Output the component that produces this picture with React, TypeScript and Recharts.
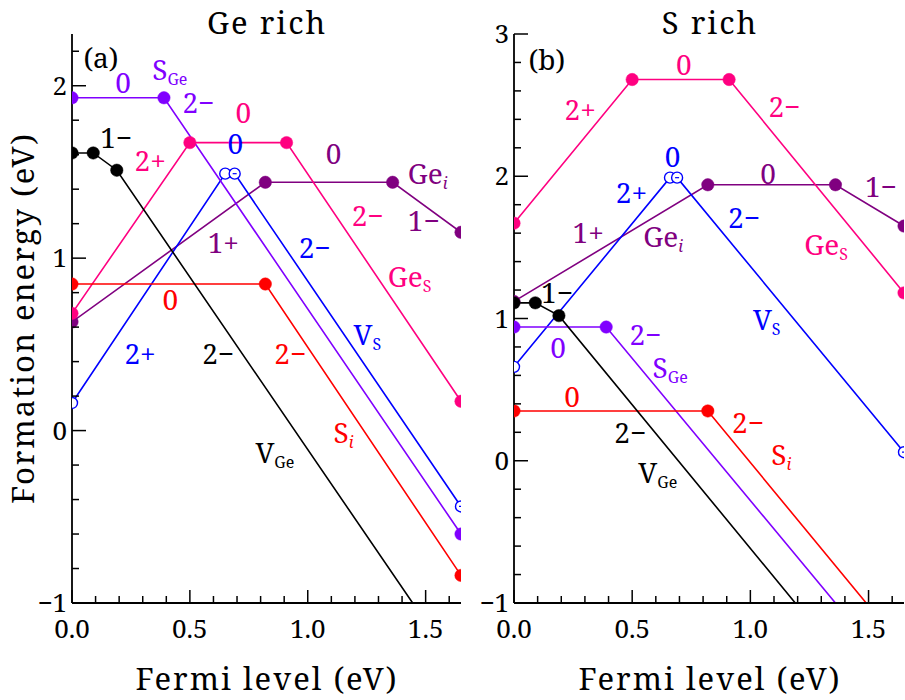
import React from 'react';
import { LineChart, Line, XAxis, YAxis, ReferenceDot } from 'recharts';

const FONT = "'Noto Serif', 'Liberation Serif', serif";
const BLACK = '#000000';
const VIO = '#8000ff';
const PINK = '#ff0080';
const PURP = '#800080';
const BLUE = '#0000ff';
const RED = '#ff0000';

// ---------- Panel (a): Ge rich ----------
const vGeA = [{ x: 0, y: 1.61 }, { x: 0.09, y: 1.61 }, { x: 0.19, y: 1.51 }, { x: 1.445, y: -1 }];
const sGeA = [{ x: 0, y: 1.93 }, { x: 0.39, y: 1.93 }, { x: 1.65, y: -0.6 }];
const geSA = [{ x: 0, y: 0.68 }, { x: 0.5, y: 1.67 }, { x: 0.91, y: 1.67 }, { x: 1.65, y: 0.17 }];
const geIA = [{ x: 0, y: 0.63 }, { x: 0.82, y: 1.44 }, { x: 1.36, y: 1.44 }, { x: 1.65, y: 1.15 }];
const vSA = [{ x: 0, y: 0.16 }, { x: 0.65, y: 1.49 }, { x: 0.69, y: 1.49 }, { x: 1.65, y: -0.44 }];
const sIA = [{ x: 0, y: 0.85 }, { x: 0.82, y: 0.85 }, { x: 1.65, y: -0.84 }];

// ---------- Panel (b): S rich ----------
const vGeB = [{ x: 0, y: 1.11 }, { x: 0.09, y: 1.11 }, { x: 0.19, y: 1.02 }, { x: 1.19, y: -1 }];
const sGeB = [{ x: 0, y: 0.94 }, { x: 0.39, y: 0.94 }, { x: 1.36, y: -1 }];
const geSB = [{ x: 0, y: 1.67 }, { x: 0.5, y: 2.68 }, { x: 0.91, y: 2.68 }, { x: 1.65, y: 1.18 }];
const geIB = [{ x: 0, y: 1.12 }, { x: 0.82, y: 1.94 }, { x: 1.36, y: 1.94 }, { x: 1.65, y: 1.65 }];
const vSB = [{ x: 0, y: 0.66 }, { x: 0.66, y: 1.99 }, { x: 0.69, y: 1.99 }, { x: 1.65, y: 0.06 }];
const sIB = [{ x: 0, y: 0.35 }, { x: 0.82, y: 0.35 }, { x: 1.49, y: -1 }];

// ---------- Axes ----------
const xDomain = [0, 1.65];
const xTicks = [0, 0.1, 0.2, 0.3, 0.4, 0.5, 0.6, 0.7, 0.8, 0.9, 1.0, 1.1, 1.2, 1.3, 1.4, 1.5, 1.6];
const yDomainA = [-1, 2.3];
const yTicksA = [-1, -0.8, -0.6, -0.4, -0.2, 0, 0.2, 0.4, 0.6, 0.8, 1, 1.2, 1.4, 1.6, 1.8, 2, 2.2];
const yDomainB = [-1, 3];
const yTicksB = [-1, -0.8, -0.6, -0.4, -0.2, 0, 0.2, 0.4, 0.6, 0.8, 1, 1.2, 1.4, 1.6, 1.8, 2, 2.2, 2.4, 2.6, 2.8, 3];

const titles = ['Ge rich', 'S rich'];
const xLabel = 'Fermi level (eV)';
const yLabel = 'Formation energy (eV)';

// ---------- Annotations ----------
type Ann = { t: string; s?: string; it?: boolean; x: number; y: number; c: string };
const annA: Ann[] = [
  { t: '(a)', x: 0.123, y: 2.159, c: BLACK },
  { t: '0', x: 0.217, y: 2.015, c: VIO },
  { t: 'S', s: 'Ge', x: 0.34, y: 2.091, c: VIO },
  { t: '2−', x: 0.536, y: 1.9, c: VIO },
  { t: '0', x: 0.727, y: 1.842, c: PINK },
  { t: '1−', x: 0.187, y: 1.697, c: BLACK },
  { t: '2+', x: 0.332, y: 1.565, c: PINK },
  { t: '0', x: 0.693, y: 1.663, c: BLUE },
  { t: '0', x: 1.109, y: 1.605, c: PURP },
  { t: 'Ge', s: 'i', it: true, x: 1.424, y: 1.49, c: PURP },
  { t: '2−', x: 1.254, y: 1.247, c: PINK },
  { t: '1−', x: 1.492, y: 1.218, c: PURP },
  { t: '1+', x: 0.642, y: 1.085, c: PURP },
  { t: '2−', x: 1.029, y: 1.056, c: BLUE },
  { t: 'Ge', s: 'S', x: 1.339, y: 0.888, c: PINK },
  { t: '0', x: 0.417, y: 0.755, c: RED },
  { t: 'V', s: 'S', x: 1.194, y: 0.553, c: BLUE },
  { t: '2+', x: 0.289, y: 0.446, c: BLUE },
  { t: '2−', x: 0.62, y: 0.446, c: BLACK },
  { t: '2−', x: 0.926, y: 0.446, c: RED },
  { t: 'S', s: 'i', it: true, x: 1.109, y: -0.013, c: RED },
  { t: 'V', s: 'Ge', x: 0.778, y: -0.129, c: BLACK },
];
const annB: Ann[] = [
  { t: '(b)', x: 0.139, y: 2.816, c: BLACK },
  { t: '0', x: 0.718, y: 2.781, c: PINK },
  { t: '2+', x: 0.28, y: 2.464, c: PINK },
  { t: '2−', x: 1.144, y: 2.486, c: PINK },
  { t: '0', x: 0.671, y: 2.134, c: BLUE },
  { t: '2+', x: 0.497, y: 1.884, c: BLUE },
  { t: '0', x: 1.075, y: 2.015, c: PURP },
  { t: '1−', x: 1.552, y: 1.923, c: PURP },
  { t: '2−', x: 0.973, y: 1.704, c: BLUE },
  { t: '1+', x: 0.314, y: 1.6, c: PURP },
  { t: 'Ge', s: 'i', it: true, x: 0.547, y: 1.572, c: PURP },
  { t: 'Ge', s: 'S', x: 1.228, y: 1.516, c: PINK },
  { t: '1−', x: 0.182, y: 1.178, c: BLACK },
  { t: 'V', s: 'S', x: 1.011, y: 0.989, c: BLUE },
  { t: '2−', x: 0.556, y: 0.883, c: VIO },
  { t: '0', x: 0.186, y: 0.792, c: VIO },
  { t: 'S', s: 'Ge', x: 0.586, y: 0.651, c: VIO },
  { t: '0', x: 0.246, y: 0.448, c: RED },
  { t: '2−', x: 0.99, y: 0.265, c: RED },
  { t: '2−', x: 0.492, y: 0.195, c: BLACK },
  { t: 'S', s: 'i', it: true, x: 1.088, y: 0.04, c: RED },
  { t: 'V', s: 'Ge', x: 0.526, y: -0.086, c: BLACK },
];

const TM = 5;
const fmtY = (v: number) => (v < 0 ? '−' + Math.abs(v) : String(v));

const YTick = (props: any) => {
  const { x, y, payload } = props;
  const v = payload.value;
  const major = Math.abs(v - Math.round(v)) < 1e-6;
  const ax = x + TM;
  return (
    <g>
      <line x1={ax} x2={ax + (major ? 14 : 7)} y1={y} y2={y} stroke="#000" strokeWidth={1.5} />
      {major && (
        <text x={x} y={y + 9} textAnchor="end" style={{ fontFamily: FONT, fontSize: 26 }} fill="#000">
          {fmtY(v)}
        </text>
      )}
    </g>
  );
};

const XTick = (props: any) => {
  const { x, y, payload } = props;
  const v = payload.value;
  const major = Math.abs(v * 2 - Math.round(v * 2)) < 1e-6;
  const ay = y - TM;
  return (
    <g>
      <line x1={x} x2={x} y1={ay} y2={ay - (major ? 13 : 7)} stroke="#000" strokeWidth={1.5} />
      {major && (
        <text x={x} y={ay + 35} textAnchor="middle" style={{ fontFamily: FONT, fontSize: 26 }} fill="#000">
          {v.toFixed(1)}
        </text>
      )}
    </g>
  );
};

const makeDot = (color: string, ymin: number) => (p: any) => {
  const { cx, cy, index, payload } = p;
  if (payload.y <= ymin) return <g key={'d' + index} />;
  return <circle key={'d' + index} cx={cx} cy={cy} r={6.2} fill={color} stroke={color} strokeWidth={0.5} />;
};

const makeOpenDot = (color: string, ymin: number) => (p: any) => {
  const { cx, cy, index, payload } = p;
  if (payload.y <= ymin) return <g key={'o' + index} />;
  return (
    <g key={'o' + index}>
      <circle cx={cx} cy={cy} r={5.5} fill="#fff" stroke={color} strokeWidth={1.4} />
      {index >= 2 && <line x1={cx - 2} x2={cx + 2} y1={cy} y2={cy} stroke={color} strokeWidth={1.2} />}
    </g>
  );
};

const AnnText = ({ cx, cy, a }: { cx: number; cy: number; a: Ann }) => (
  <text
    x={cx}
    y={cy + 10}
    fill={a.c}
    style={{ fontFamily: FONT, fontSize: 28 }}
    textAnchor={a.s ? 'start' : 'middle'}
  >
    {a.t}
    {a.s && (
      <tspan dy={5} style={{ fontSize: 16, fontStyle: a.it ? 'italic' : 'normal' }}>
        {a.s}
      </tspan>
    )}
  </text>
);

type Series = { data: { x: number; y: number }[]; color: string; open?: boolean };

const Panel = ({
  series,
  yDomain,
  yTicks,
  anns,
  width,
  yAxisWidth,
  marginRight,
}: {
  series: Series[];
  yDomain: number[];
  yTicks: number[];
  anns: Ann[];
  width: number;
  yAxisWidth: number;
  marginRight: number;
}) => (
  <LineChart width={width} height={700} margin={{ top: 34, right: marginRight, bottom: 57, left: 0 }}>
    <XAxis
      type="number"
      dataKey="x"
      domain={xDomain}
      allowDataOverflow
      ticks={xTicks}
      interval={0}
      tick={XTick}
      tickLine={false}
      tickSize={0}
      tickMargin={TM}
      height={40}
      axisLine={{ stroke: '#000', strokeWidth: 1.8 }}
    />
    <XAxis
      xAxisId="top"
      orientation="top"
      type="number"
      domain={xDomain}
      allowDataOverflow
      tick={false}
      tickLine={false}
      height={0}
      axisLine={{ stroke: '#000', strokeWidth: 1.8 }}
    />
    <YAxis
      type="number"
      domain={yDomain}
      allowDataOverflow
      ticks={yTicks}
      interval={0}
      tick={YTick}
      tickLine={false}
      tickSize={0}
      tickMargin={TM}
      width={yAxisWidth}
      axisLine={{ stroke: '#000', strokeWidth: 1.8 }}
    />
    <YAxis
      yAxisId="right"
      orientation="right"
      type="number"
      domain={yDomain}
      allowDataOverflow
      tick={false}
      tickLine={false}
      width={0}
      axisLine={{ stroke: '#000', strokeWidth: 1.8 }}
    />
    {series.map((s, i) => (
      <Line
        key={i}
        data={s.data}
        dataKey="y"
        type="linear"
        stroke={s.color}
        strokeWidth={1.6}
        dot={s.open ? makeOpenDot(s.color, yDomain[0]) : makeDot(s.color, yDomain[0])}
        activeDot={false}
        isAnimationActive={false}
      />
    ))}
    {anns.map((a, i) => (
      <ReferenceDot
        key={'a' + i}
        x={a.x}
        y={a.y}
        r={0}
        shape={(p: any) => <AnnText cx={p.cx} cy={p.cy} a={a} />}
      />
    ))}
  </LineChart>
);

const seriesA: Series[] = [
  { data: geIA, color: PURP },
  { data: geSA, color: PINK },
  { data: vSA, color: BLUE, open: true },
  { data: sGeA, color: VIO },
  { data: sIA, color: RED },
  { data: vGeA, color: BLACK },
];
const seriesB: Series[] = [
  { data: geIB, color: PURP },
  { data: geSB, color: PINK },
  { data: vSB, color: BLUE, open: true },
  { data: sGeB, color: VIO },
  { data: sIB, color: RED },
  { data: vGeB, color: BLACK },
];

const big = { fontFamily: FONT, fontSize: 31, letterSpacing: 2 };

export default function App() {
  return (
    <div style={{ position: 'absolute', left: 0, top: 0, width: 905, height: 700, background: '#fff', overflow: 'hidden' }}>
      <div style={{ position: 'absolute', left: 0, top: 0 }}>
        <Panel series={seriesA} yDomain={yDomainA} yTicks={yTicksA} anns={annA} width={470} yAxisWidth={72} marginRight={9} />
      </div>
      <div style={{ position: 'absolute', left: 470, top: 0 }}>
        <Panel series={seriesB} yDomain={yDomainB} yTicks={yTicksB} anns={annB} width={435} yAxisWidth={44} marginRight={1} />
      </div>
      <svg width={905} height={700} style={{ position: 'absolute', left: 0, top: 0, pointerEvents: 'none' }}>
        <text x={267} y={33.5} textAnchor="middle" style={big} fill="#000">{titles[0]}</text>
        <text x={710} y={33.5} textAnchor="middle" style={big} fill="#000">{titles[1]}</text>
        <text x={267} y={690} textAnchor="middle" style={big} fill="#000">{xLabel}</text>
        <text x={710} y={690} textAnchor="middle" style={big} fill="#000">{xLabel}</text>
        <text x={34} y={318} textAnchor="middle" style={big} fill="#000" transform="rotate(-90 34 318)">{yLabel}</text>
      </svg>
    </div>
  );
}
